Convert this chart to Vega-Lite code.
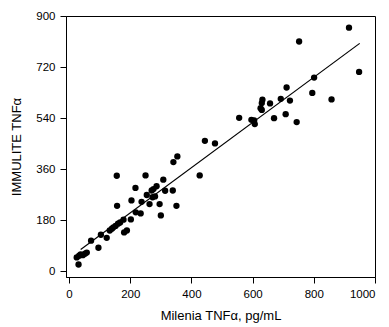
{
  "$schema": "https://vega.github.io/schema/vega-lite/v6.json",
  "width": 309,
  "height": 261,
  "autosize": {"type": "none"},
  "padding": {"left": 66, "top": 16, "right": 14, "bottom": 50},
  "background": "white",
  "config": {
    "view": {"stroke": "black", "strokeWidth": 1},
    "axis": {
      "grid": false,
      "domainColor": "black",
      "tickColor": "black",
      "labelColor": "black",
      "titleColor": "black",
      "labelFont": "Liberation Sans",
      "titleFont": "Liberation Sans",
      "labelFontSize": 11.5,
      "titleFontSize": 13,
      "titleFontWeight": "normal",
      "tickSize": 6,
      "labelPadding": 5
    }
  },
  "data": {
    "values": [
      {"milenia": 25, "immulite": 49}, {"milenia": 31, "immulite": 24}, {"milenia": 33, "immulite": 55},
      {"milenia": 38, "immulite": 60}, {"milenia": 45, "immulite": 57}, {"milenia": 52, "immulite": 62},
      {"milenia": 58, "immulite": 66}, {"milenia": 72, "immulite": 108}, {"milenia": 96, "immulite": 83},
      {"milenia": 104, "immulite": 129}, {"milenia": 123, "immulite": 118}, {"milenia": 133, "immulite": 144},
      {"milenia": 140, "immulite": 150}, {"milenia": 145, "immulite": 155}, {"milenia": 152, "immulite": 160},
      {"milenia": 160, "immulite": 168}, {"milenia": 167, "immulite": 172}, {"milenia": 178, "immulite": 182},
      {"milenia": 180, "immulite": 137}, {"milenia": 189, "immulite": 144}, {"milenia": 157, "immulite": 231},
      {"milenia": 156, "immulite": 337}, {"milenia": 202, "immulite": 183}, {"milenia": 204, "immulite": 250},
      {"milenia": 218, "immulite": 208}, {"milenia": 234, "immulite": 204}, {"milenia": 217, "immulite": 294},
      {"milenia": 237, "immulite": 245}, {"milenia": 250, "immulite": 338}, {"milenia": 254, "immulite": 269},
      {"milenia": 263, "immulite": 237}, {"milenia": 273, "immulite": 261}, {"milenia": 281, "immulite": 264},
      {"milenia": 270, "immulite": 285}, {"milenia": 276, "immulite": 290}, {"milenia": 286, "immulite": 300},
      {"milenia": 296, "immulite": 237}, {"milenia": 300, "immulite": 197}, {"milenia": 308, "immulite": 323},
      {"milenia": 314, "immulite": 284}, {"milenia": 339, "immulite": 285}, {"milenia": 351, "immulite": 231},
      {"milenia": 341, "immulite": 385}, {"milenia": 354, "immulite": 405}, {"milenia": 427, "immulite": 338},
      {"milenia": 444, "immulite": 460}, {"milenia": 477, "immulite": 451}, {"milenia": 556, "immulite": 541},
      {"milenia": 596, "immulite": 534}, {"milenia": 605, "immulite": 532}, {"milenia": 607, "immulite": 519},
      {"milenia": 626, "immulite": 575}, {"milenia": 630, "immulite": 569}, {"milenia": 630, "immulite": 593},
      {"milenia": 632, "immulite": 605}, {"milenia": 657, "immulite": 592}, {"milenia": 670, "immulite": 540},
      {"milenia": 692, "immulite": 608}, {"milenia": 708, "immulite": 554}, {"milenia": 711, "immulite": 648},
      {"milenia": 722, "immulite": 602}, {"milenia": 744, "immulite": 526}, {"milenia": 752, "immulite": 810},
      {"milenia": 795, "immulite": 629}, {"milenia": 801, "immulite": 683}, {"milenia": 858, "immulite": 606},
      {"milenia": 915, "immulite": 859}, {"milenia": 948, "immulite": 703}
    ]
  },
  "encoding": {
    "x": {
      "field": "milenia", "type": "quantitative",
      "scale": {"domain": [-10, 1000], "nice": false, "zero": false},
      "axis": {"values": [0, 200, 400, 600, 800, 1000], "format": "d", "title": "Milenia TNFα, pg/mL", "titlePadding": 10}
    },
    "y": {
      "field": "immulite", "type": "quantitative",
      "scale": {"domain": [-20, 900], "nice": false, "zero": false},
      "axis": {"values": [0, 180, 360, 540, 720, 900], "title": "IMMULITE TNFα", "titlePadding": 12}
    }
  },
  "layer": [
    {
      "mark": {"type": "circle", "color": "black", "opacity": 1, "size": 40}
    },
    {
      "transform": [{"regression": "immulite", "on": "milenia", "extent": [38, 950]}],
      "mark": {"type": "line", "color": "black", "strokeWidth": 1.2}
    }
  ]
}
